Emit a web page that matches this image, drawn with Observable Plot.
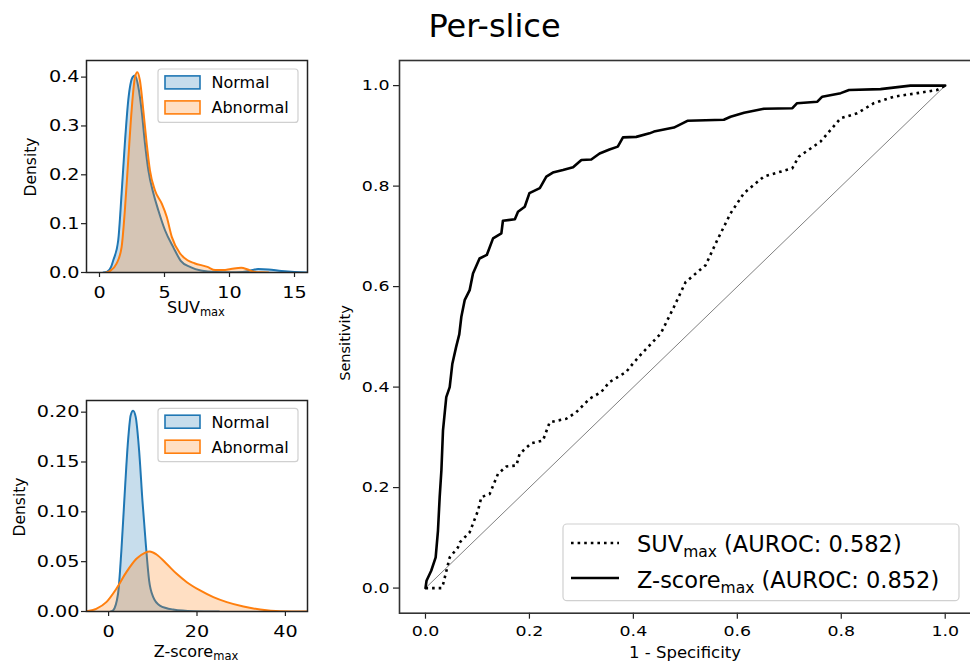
<!DOCTYPE html>
<html><head><meta charset="utf-8">
<script src="https://cdn.jsdelivr.net/npm/d3@7"></script>
<script src="https://cdn.jsdelivr.net/npm/@observablehq/plot@0.6"></script>
<style>
html,body{margin:0;padding:0;background:#fff;overflow:hidden;width:970px;height:664px;}
#root{position:relative;width:970px;height:664px;overflow:hidden;font-family:"DejaVu Sans",sans-serif;}
.panel{position:absolute;}
.panel svg{display:block;overflow:visible;max-width:none !important;}
#overlay{position:absolute;left:0;top:0;pointer-events:none;}
</style></head><body><div id="root">
<div class="panel" id="pA" style="left:0;top:40px;width:320px;height:262px"></div>
<div class="panel" id="pB" style="left:0;top:380px;width:320px;height:262px"></div>
<div class="panel" id="pC" style="left:340px;top:40px;width:640px;height:624px"></div>
</div>
<script>
// ---------- data ----------
const blue = "#1f77b4", orange = "#ff7f0e";

// SUVmax densities
const suvNormalX = [0.3, 0.6, 0.9, 1.06, 1.44, 1.7, 1.95, 2.21, 2.55, 2.73, 2.99, 3.24, 3.5, 3.76, 4.15, 4.53, 5.04, 5.69, 6.25, 7.0, 7.8, 9.0, 10.0, 11.0, 11.6, 12.2, 13.0, 14.0, 15.0, 16.0];
const suvNormalD = [0, 0.002, 0.012, 0.025, 0.066, 0.1615, 0.264, 0.352, 0.400, 0.4035, 0.3796, 0.332, 0.264, 0.209, 0.1615, 0.127, 0.0865, 0.051, 0.024, 0.011, 0.004, 0.001, 0.0005, 0.001, 0.004, 0.007, 0.006, 0.003, 0.001, 0];
const suvAbnX = [0.5, 0.8, 1.31, 1.7, 1.95, 2.21, 2.47, 2.73, 2.91, 3.11, 3.37, 3.63, 3.88, 4.27, 4.79, 5.17, 5.56, 6.2, 6.77, 7.3, 8.3, 8.9, 9.5, 10.1, 10.9, 11.4, 11.8, 12.4, 13.0];
const suvAbnD = [0, 0.003, 0.018, 0.052, 0.127, 0.23, 0.332, 0.400, 0.410, 0.393, 0.332, 0.264, 0.209, 0.168, 0.141, 0.114, 0.073, 0.039, 0.025, 0.019, 0.0115, 0.005, 0.005, 0.007, 0.0095, 0.006, 0.002, 0.0003, 0];

// Z-score max densities
const zNormalX = [0.5, 1.0, 2.14, 2.89, 3.64, 4.41, 5.0, 5.54, 6.14, 6.9, 7.66, 8.41, 9.17, 10.1, 11.6, 14.6, 19.2, 25.0];
const zNormalD = [0, 0.001, 0.0178, 0.061, 0.118, 0.172, 0.197, 0.2015, 0.195, 0.1617, 0.111, 0.068, 0.031, 0.0144, 0.006, 0.002, 0.0003, 0];
const zAbnX = [-5.0, -2.8, -0.52, 1.75, 4.02, 6.3, 8.2, 9.32, 10.84, 13.1, 15.4, 17.7, 20.7, 23.7, 26.75, 30.5, 34.3, 38.9, 45.0];
const zAbnD = [0.0003, 0.0027, 0.0094, 0.0228, 0.0395, 0.0529, 0.0589, 0.0602, 0.0572, 0.0479, 0.0378, 0.0294, 0.0211, 0.0144, 0.0094, 0.005, 0.002, 0.0003, 0];

// ROC curves
const zFpr = [0, 0.002, 0.011, 0.0196, 0.024, 0.0273, 0.0306, 0.0337, 0.040, 0.0466, 0.0517, 0.059, 0.065, 0.069, 0.0754, 0.085, 0.0914, 0.104, 0.118, 0.130, 0.146, 0.149, 0.172, 0.178, 0.191, 0.200, 0.220, 0.2325, 0.245, 0.2645, 0.284, 0.300, 0.319, 0.335, 0.354, 0.370, 0.380, 0.4056, 0.431, 0.4396, 0.478, 0.504, 0.574, 0.587, 0.613, 0.651, 0.706, 0.715, 0.754, 0.7634, 0.799, 0.815, 0.8755, 0.933, 1.0];
const zTpr = [0, 0.0146, 0.0345, 0.061, 0.114, 0.181, 0.234, 0.314, 0.380, 0.400, 0.4466, 0.48, 0.505, 0.540, 0.573, 0.593, 0.626, 0.656, 0.663, 0.696, 0.706, 0.731, 0.734, 0.749, 0.759, 0.786, 0.796, 0.819, 0.827, 0.832, 0.8375, 0.852, 0.853, 0.865, 0.873, 0.8786, 0.897, 0.898, 0.905, 0.9085, 0.9165, 0.930, 0.932, 0.938, 0.946, 0.954, 0.955, 0.965, 0.968, 0.978, 0.985, 0.9914, 0.993, 1.0, 1.0];
const sFpr = [0, 0.0306, 0.034, 0.0466, 0.0625, 0.066, 0.085, 0.101, 0.1075, 0.1235, 0.1395, 0.1556, 0.175, 0.181, 0.2037, 0.226, 0.239, 0.271, 0.290, 0.316, 0.338, 0.354, 0.386, 0.399, 0.416, 0.4526, 0.478, 0.5005, 0.539, 0.5614, 0.587, 0.6126, 0.651, 0.7057, 0.7184, 0.760, 0.7986, 0.8307, 0.8627, 0.901, 0.946, 0.9846, 1.0];
const sTpr = [0, 0, 0.008, 0.061, 0.081, 0.091, 0.111, 0.154, 0.181, 0.1874, 0.2273, 0.242, 0.244, 0.267, 0.2883, 0.2937, 0.330, 0.337, 0.350, 0.377, 0.390, 0.410, 0.430, 0.4467, 0.4666, 0.5065, 0.5595, 0.609, 0.6427, 0.6925, 0.7458, 0.7857, 0.819, 0.8355, 0.8586, 0.8886, 0.935, 0.945, 0.965, 0.978, 0.985, 0.9914, 1.0];
const diagX = [0, 1];
const diagY = [0, 1];

// ticks
const suvTicks = [0, 5, 10, 15];
const suvDensTicks = [0, 0.1, 0.2, 0.3, 0.4];
const zTicks = [0, 20, 40];
const zDensTicks = [0, 0.05, 0.10, 0.15, 0.20];
const rocTicks = [0, 0.2, 0.4, 0.6, 0.8, 1.0];

// labels
const titleText = "Per-slice";
const legendLabels = ["Normal", "Abnormal"];

// ---------- helpers ----------
const zipXY = (xs, ys) => xs.map((x, i) => ({x, y: ys[i]}));

function stretchTicks(svg, sx) {
  d3.select(svg).selectAll('g[aria-label="x-axis tick label"] text, g[aria-label="y-axis tick label"] text')
    .each(function () {
      const t = this.getAttribute("transform") || "";
      this.setAttribute("transform", t + ` scale(${sx},1)`);
    });
}

function densityPlot(opts) {
  const {xDomain, yDomain, xTicks, yTicks, yFmt, nX, nY, aX, aY, marginBottom} = opts;
  const normal = zipXY(nX, nY), abn = zipXY(aX, aY);
  return Plot.plot({
    width: 320, height: 262,
    marginTop: 20, marginBottom, marginLeft: 86, marginRight: 13,
    style: {fontFamily: "DejaVu Sans", fontSize: "16px", color: "#000", background: "transparent"},
    x: {domain: xDomain},
    y: {domain: yDomain},
    marks: [
      Plot.areaY(normal, {x: "x", y: "y", fill: blue, fillOpacity: 0.25, curve: "monotone-x", clip: true}),
      Plot.line(normal, {x: "x", y: "y", stroke: blue, strokeWidth: 2, curve: "monotone-x", clip: true}),
      Plot.areaY(abn, {x: "x", y: "y", fill: orange, fillOpacity: 0.25, curve: "monotone-x", clip: true}),
      Plot.line(abn, {x: "x", y: "y", stroke: orange, strokeWidth: 2, curve: "monotone-x", clip: true}),
      Plot.axisX({ticks: xTicks, tickSize: 5, tickPadding: 9, label: null, fontSize: 16, fontVariant: "normal", stroke: "#222", strokeWidth: 1.2}),
      Plot.axisY({ticks: yTicks, tickFormat: d3.format(yFmt), tickSize: 5, tickPadding: 2, label: null, fontSize: 16, fontVariant: "normal", stroke: "#222", strokeWidth: 1.2}),
      Plot.frame({stroke: "#222", strokeWidth: 1.5})
    ]
  });
}

// ---------- panels ----------
const A = densityPlot({xDomain: [-1, 16], yDomain: [0, 0.434], xTicks: suvTicks, yTicks: suvDensTicks, yFmt: ".1f",
  nX: suvNormalX, nY: suvNormalD, aX: suvAbnX, aY: suvAbnD, marginBottom: 30});
stretchTicks(A, 1.2);
document.getElementById("pA").appendChild(A);

const B = densityPlot({xDomain: [-5, 45], yDomain: [0, 0.2117], xTicks: zTicks, yTicks: zDensTicks, yFmt: ".2f",
  nX: zNormalX, nY: zNormalD, aX: zAbnX, aY: zAbnD, marginBottom: 31});
stretchTicks(B, 1.2);
document.getElementById("pB").appendChild(B);

const C = Plot.plot({
  width: 640, height: 624,
  marginTop: 20, marginBottom: 51.3, marginLeft: 59, marginRight: 9.3,
  style: {fontFamily: "DejaVu Sans", fontSize: "14.5px", color: "#000", background: "transparent"},
  x: {domain: [-0.05, 1.05]},
  y: {domain: [-0.05, 1.05]},
  marks: [
    Plot.line(zipXY(diagX, diagY), {x: "x", y: "y", stroke: "#808080", strokeWidth: 1}),
    Plot.line(zipXY(sFpr, sTpr), {x: "x", y: "y", stroke: "#000", strokeWidth: 2.6, strokeDasharray: "2.6,4", strokeLinecap: "butt"}),
    Plot.line(zipXY(zFpr, zTpr), {x: "x", y: "y", stroke: "#000", strokeWidth: 2.6}),
    Plot.axisX({ticks: rocTicks, tickFormat: d3.format(".1f"), tickSize: 6, tickPadding: 7, label: null, fontSize: 14.5, fontVariant: "normal", stroke: "#222", strokeWidth: 1.2}),
    Plot.axisY({ticks: rocTicks, tickFormat: d3.format(".1f"), tickSize: 6, tickPadding: 4, label: null, fontSize: 14.5, fontVariant: "normal", stroke: "#222", strokeWidth: 1.2}),
    Plot.frame({stroke: "#333", strokeWidth: 1.6})
  ]
});
stretchTicks(C, 1.2);
document.getElementById("pC").appendChild(C);

// ---------- overlay: title, axis labels, legends ----------
const ov = d3.select("#root").append("svg").attr("id", "overlay")
  .attr("width", 970).attr("height", 664).style("font-family", "DejaVu Sans");

ov.append("text").attr("x", 494.5).attr("y", 36.5).attr("text-anchor", "middle")
  .attr("font-size", 32).attr("fill", "#000").text(titleText);

function vlabel(x, y, txt, fs) {
  ov.append("text").attr("transform", `translate(${x},${y}) rotate(-90)`).attr("text-anchor", "middle")
    .attr("font-size", fs).attr("fill", "#000").text(txt);
}
function subLabel(x, y, main, fs, sub, sfs, tail) {
  const t = ov.append("text").attr("x", x).attr("y", y).attr("font-size", fs).attr("fill", "#000");
  t.append("tspan").text(main);
  t.append("tspan").attr("font-size", sfs).attr("dy", fs * 0.2).text(sub);
  if (tail) t.append("tspan").attr("dy", -fs * 0.2).text(tail);
  return t;
}
vlabel(36, 167, "Density", 15.5);
vlabel(25, 507, "Density", 15.5);
subLabel(196, 313, "SUV", 16, "max", 11.5).attr("text-anchor", "middle");
subLabel(196, 657, "Z-score", 16, "max", 11.5).attr("text-anchor", "middle");
vlabel(350, 343, "Sensitivity", 14.5);
ov.append("text").attr("transform", "translate(685,658) scale(1.1,1)").attr("text-anchor", "middle")
  .attr("font-size", 15).attr("fill", "#000").text("1 - Specificity");

function densLegend(top) {
  ov.append("rect").attr("x", 158).attr("y", top).attr("width", 140).attr("height", 53.4).attr("rx", 3)
    .attr("fill", "#fff").attr("fill-opacity", 0.8).attr("stroke", "#d0d0d0").attr("stroke-width", 1.2);
  [blue, orange].forEach((c, i) => {
    const cy = top + 13.4 + i * 25;
    ov.append("rect").attr("x", 165).attr("y", cy - 6.5).attr("width", 35).attr("height", 13)
      .attr("fill", c).attr("fill-opacity", 0.25).attr("stroke", c).attr("stroke-width", 1.6);
    ov.append("text").attr("x", 211.5).attr("y", cy + 6).attr("font-size", 16).attr("fill", "#000").text(legendLabels[i]);
  });
}
densLegend(69);
densLegend(408.3);

// ROC legend
ov.append("rect").attr("x", 563).attr("y", 524).attr("width", 396).attr("height", 76.7).attr("rx", 4)
  .attr("fill", "#fff").attr("fill-opacity", 0.8).attr("stroke", "#d0d0d0").attr("stroke-width", 1.2);
ov.append("line").attr("x1", 571).attr("x2", 619).attr("y1", 543).attr("y2", 543)
  .attr("stroke", "#000").attr("stroke-width", 2.6).attr("stroke-dasharray", "2.6,4");
ov.append("line").attr("x1", 571).attr("x2", 619).attr("y1", 578).attr("y2", 578)
  .attr("stroke", "#000").attr("stroke-width", 2.6);
subLabel(637, 552, "SUV", 22.5, "max", 15.5, " (AUROC: 0.582)");
subLabel(637, 588, "Z-score", 22.5, "max", 15.5, " (AUROC: 0.852)");
</script></body></html>
